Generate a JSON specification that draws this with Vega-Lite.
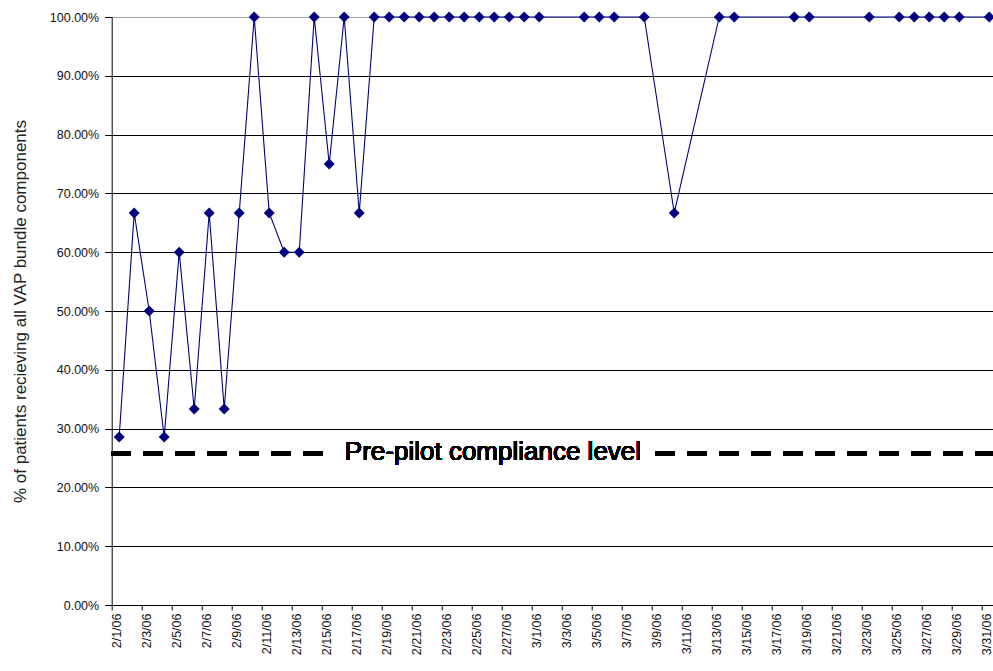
{
  "$schema": "https://vega.github.io/schema/vega-lite/v6.json",
  "width": 881.3,
  "height": 588,
  "autosize": "none",
  "padding": {"left": 111.7, "top": 17, "right": 0, "bottom": 66},
  "background": "white",
  "config": {
    "view": {"stroke": null},
    "font": "Liberation Sans",
    "axis": {"labelFont": "Liberation Sans", "titleFont": "Liberation Sans"}
  },
  "data": {
    "values": [
      {"date": "2006-02-01", "pct": 0.2857},
      {"date": "2006-02-02", "pct": 0.6667},
      {"date": "2006-02-03", "pct": 0.5},
      {"date": "2006-02-04", "pct": 0.2857},
      {"date": "2006-02-05", "pct": 0.6},
      {"date": "2006-02-06", "pct": 0.3333},
      {"date": "2006-02-07", "pct": 0.6667},
      {"date": "2006-02-08", "pct": 0.3333},
      {"date": "2006-02-09", "pct": 0.6667},
      {"date": "2006-02-10", "pct": 1},
      {"date": "2006-02-11", "pct": 0.6667},
      {"date": "2006-02-12", "pct": 0.6},
      {"date": "2006-02-13", "pct": 0.6},
      {"date": "2006-02-14", "pct": 1},
      {"date": "2006-02-15", "pct": 0.75},
      {"date": "2006-02-16", "pct": 1},
      {"date": "2006-02-17", "pct": 0.6667},
      {"date": "2006-02-18", "pct": 1},
      {"date": "2006-02-19", "pct": 1},
      {"date": "2006-02-20", "pct": 1},
      {"date": "2006-02-21", "pct": 1},
      {"date": "2006-02-22", "pct": 1},
      {"date": "2006-02-23", "pct": 1},
      {"date": "2006-02-24", "pct": 1},
      {"date": "2006-02-25", "pct": 1},
      {"date": "2006-02-26", "pct": 1},
      {"date": "2006-02-27", "pct": 1},
      {"date": "2006-02-28", "pct": 1},
      {"date": "2006-03-01", "pct": 1},
      {"date": "2006-03-04", "pct": 1},
      {"date": "2006-03-05", "pct": 1},
      {"date": "2006-03-06", "pct": 1},
      {"date": "2006-03-08", "pct": 1},
      {"date": "2006-03-10", "pct": 0.6667},
      {"date": "2006-03-13", "pct": 1},
      {"date": "2006-03-14", "pct": 1},
      {"date": "2006-03-18", "pct": 1},
      {"date": "2006-03-19", "pct": 1},
      {"date": "2006-03-23", "pct": 1},
      {"date": "2006-03-25", "pct": 1},
      {"date": "2006-03-26", "pct": 1},
      {"date": "2006-03-27", "pct": 1},
      {"date": "2006-03-28", "pct": 1},
      {"date": "2006-03-29", "pct": 1},
      {"date": "2006-03-31", "pct": 1}
    ]
  },
  "encoding": {
    "x": {
      "field": "date",
      "type": "temporal",
      "scale": {
        "type": "utc",
        "domain": [
          {"year": 2006, "month": 1, "date": 31, "hours": 12, "utc": true},
          {"year": 2006, "month": 3, "date": 31, "hours": 6, "utc": true}
        ]
      },
      "axis": {
        "title": null,
        "grid": false,
        "values": [
          {"year": 2006, "month": 2, "date": 1, "utc": true},
          {"year": 2006, "month": 2, "date": 3, "utc": true},
          {"year": 2006, "month": 2, "date": 5, "utc": true},
          {"year": 2006, "month": 2, "date": 7, "utc": true},
          {"year": 2006, "month": 2, "date": 9, "utc": true},
          {"year": 2006, "month": 2, "date": 11, "utc": true},
          {"year": 2006, "month": 2, "date": 13, "utc": true},
          {"year": 2006, "month": 2, "date": 15, "utc": true},
          {"year": 2006, "month": 2, "date": 17, "utc": true},
          {"year": 2006, "month": 2, "date": 19, "utc": true},
          {"year": 2006, "month": 2, "date": 21, "utc": true},
          {"year": 2006, "month": 2, "date": 23, "utc": true},
          {"year": 2006, "month": 2, "date": 25, "utc": true},
          {"year": 2006, "month": 2, "date": 27, "utc": true},
          {"year": 2006, "month": 3, "date": 1, "utc": true},
          {"year": 2006, "month": 3, "date": 3, "utc": true},
          {"year": 2006, "month": 3, "date": 5, "utc": true},
          {"year": 2006, "month": 3, "date": 7, "utc": true},
          {"year": 2006, "month": 3, "date": 9, "utc": true},
          {"year": 2006, "month": 3, "date": 11, "utc": true},
          {"year": 2006, "month": 3, "date": 13, "utc": true},
          {"year": 2006, "month": 3, "date": 15, "utc": true},
          {"year": 2006, "month": 3, "date": 17, "utc": true},
          {"year": 2006, "month": 3, "date": 19, "utc": true},
          {"year": 2006, "month": 3, "date": 21, "utc": true},
          {"year": 2006, "month": 3, "date": 23, "utc": true},
          {"year": 2006, "month": 3, "date": 25, "utc": true},
          {"year": 2006, "month": 3, "date": 27, "utc": true},
          {"year": 2006, "month": 3, "date": 29, "utc": true},
          {"year": 2006, "month": 3, "date": 31, "utc": true}
        ],
        "labelExpr": "utcFormat(datum.value, '%-m/%-d/%y')",
        "labelAngle": 270,
        "labelAlign": "right",
        "labelBaseline": "middle",
        "labelFontSize": 12.5,
        "labelColor": "#111",
        "labelPadding": 3,
        "labelFlush": false,
        "labelOverlap": false,
        "tickSize": 5,
        "tickColor": "black",
        "tickOffset": -7.5,
        "labelOffset": 4.5,
        "domainColor": "black",
        "domainWidth": 1
      }
    },
    "y": {
      "field": "pct",
      "type": "quantitative",
      "scale": {"domain": [0, 1], "nice": false, "zero": true},
      "axis": {
        "title": "% of patients recieving all VAP bundle components",
        "titleFontSize": 17,
        "titleFontWeight": "normal",
        "titleColor": "#222",
        "titlePadding": 20,
        "values": [0, 0.1, 0.2, 0.3, 0.4, 0.5, 0.6, 0.7, 0.8, 0.9, 1],
        "format": ".2%",
        "labelFontSize": 12.5,
        "labelColor": "#111",
        "labelPadding": 6,
        "tickSize": 7,
        "tickColor": "black",
        "domainColor": "black",
        "grid": true,
        "gridColor": {"condition": {"test": "datum.value >= 1", "value": "#a0a0a0"}, "value": "black"},
        "gridWidth": 1
      }
    }
  },
  "layer": [
    {
      "mark": {"type": "line", "color": "#000080", "strokeWidth": 1.1, "clip": false}
    },
    {
      "layer": [
        {
          "mark": {"type": "rule", "color": "black", "strokeWidth": 4.5, "strokeDash": [19, 13]},
          "encoding": {"x": {"value": 0}, "x2": {"value": 881.3}, "y": {"datum": 0.258, "type": "quantitative"}}
        },
        {
          "mark": {"type": "rect", "color": "white"},
          "encoding": {
            "x": {"datum": {"year": 2006, "month": 2, "date": 14, "hours": 19, "utc": true}, "type": "temporal"},
            "x2": {"datum": {"year": 2006, "month": 3, "date": 8, "hours": 16, "utc": true}},
            "y": {"datum": 0.23, "type": "quantitative"},
            "y2": {"datum": 0.29}
          }
        },
        {
          "mark": {"type": "text", "fontSize": 26, "color": "black", "baseline": "alphabetic", "align": "center"},
          "encoding": {
            "x": {"datum": {"year": 2006, "month": 2, "date": 25, "hours": 22, "utc": true}, "type": "temporal"},
            "y": {"datum": 0.2466, "type": "quantitative"},
            "text": {"value": "Pre-pilot compliance level"}
          }
        }
      ]
    },
    {
      "mark": {"type": "point", "shape": "diamond", "filled": true, "color": "#000080", "size": 120, "opacity": 1, "clip": false}
    }
  ]
}
